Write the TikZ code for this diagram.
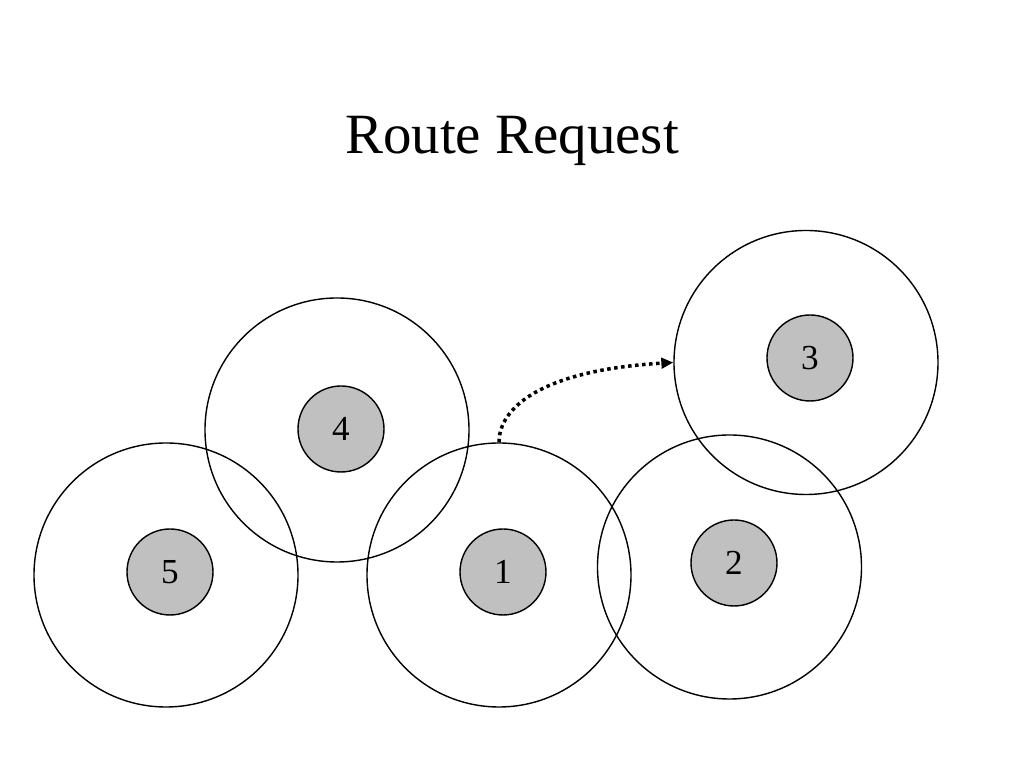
\documentclass[tikz,border=0pt]{standalone}
\usepackage{fontspec}
\setmainfont{Liberation Serif}
\usepackage{tikz}
\usetikzlibrary{arrows.meta}
\definecolor{hostgray}{RGB}{192,192,192}

\begin{document}
\begin{tikzpicture}[
        radiorange/.style={circle, draw, minimum size=2.64cm, inner sep=0pt},
        host/.style={circle, draw, fill=hostgray, minimum size=0.86cm, inner sep=0pt, font=\fontsize{10}{12}\selectfont}
    ]
        \useasboundingbox (0, 0) rectangle (10.24, 7.68);
        \node [font=\fontsize{16.2}{19}\selectfont] (title) at (5.12, 6.27) {Route Request};

        \foreach \n/\rx/\ry/\hx/\hy in {5/1.66/1.93/1.70/1.96, 4/3.37/3.38/3.41/3.39, 1/4.99/1.93/5.03/1.96, 2/7.295/2.01/7.34/2.05, 3/8.06/4.055/8.10/4.10}
        {
            \node [radiorange] (r\n) at (\rx, \ry) {};
            \node [host] (h\n) at (\hx, \hy) {\n};
        }

        \draw [-{Triangle[length=3.4pt, width=3pt]}, line width=1pt, dash pattern=on 1pt off 1pt] (r1.north) .. controls +(0, 0.33) and +(-1.35, -0.08) .. (r3.west);
\end{tikzpicture}
\end{document}
